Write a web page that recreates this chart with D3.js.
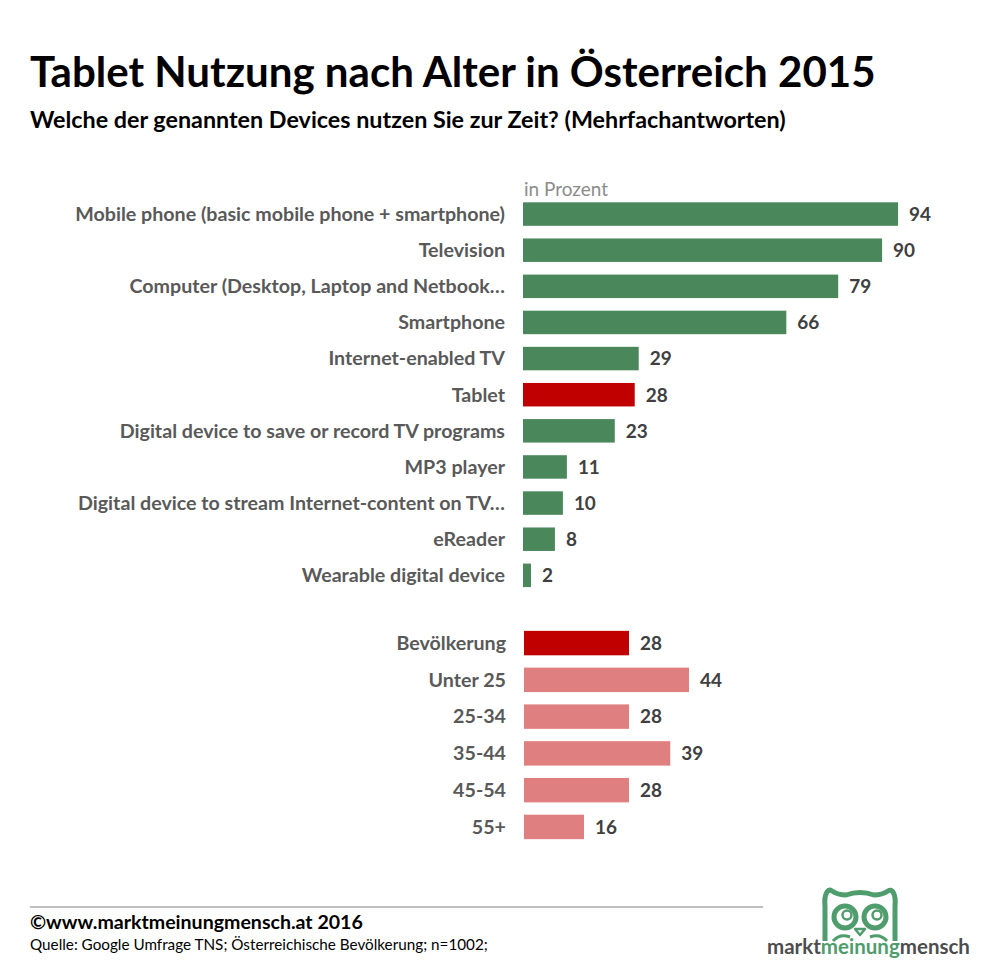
<!DOCTYPE html>
<html>
<head>
<meta charset="utf-8">
<script src="https://cdn.jsdelivr.net/npm/d3@7.9.0/dist/d3.min.js"></script>
<style>
  body { margin: 0; background: #fff; }
  svg { display: block; font-family: Lato, "Open Sans", sans-serif; }
</style>
</head>
<body>
<svg id="chart" width="998" height="978"></svg>
<script>
// --- data ---
const devices = [
  'Mobile phone (basic mobile phone + smartphone)',
  'Television',
  'Computer (Desktop, Laptop and Netbook…',
  'Smartphone',
  'Internet-enabled TV',
  'Tablet',
  'Digital device to save or record TV programs',
  'MP3 player',
  'Digital device to stream Internet-content on TV…',
  'eReader',
  'Wearable digital device'
];
const deviceValues = [94, 90, 79, 66, 29, 28, 23, 11, 10, 8, 2];

const ageGroups = ['Bevölkerung', 'Unter 25', '25-34', '35-44', '45-54', '55+'];
const ageValues = [28, 44, 28, 39, 28, 16];

const highlightDevice = 'Tablet';
const highlightAge = 'Bevölkerung';

const svg = d3.select('#chart');
const GREEN = '#4a875b', RED = '#c00000', PINK = '#e07f7f';

// fit a text element to a target width by scaling its font size
function fitText(sel, width) {
  const w = sel.node().getComputedTextLength();
  const fs = parseFloat(sel.attr('font-size'));
  sel.attr('font-size', fs * width / w);
}

// --- title block ---
const title = svg.append('text')
  .attr('x', 30).attr('y', 87)
  .attr('font-size', 44).attr('font-weight', 700).attr('fill', '#000')
  .text('Tablet Nutzung nach Alter in Österreich 2015');
fitText(title, 846);

const sub = svg.append('text')
  .attr('x', 30).attr('y', 128)
  .attr('font-size', 20).attr('font-weight', 700).attr('fill', '#000')
  .text('Welche der genannten Devices nutzen Sie zur Zeit? (Mehrfachantworten)');
fitText(sub, 756);

const unit = svg.append('text')
  .attr('x', 524).attr('y', 196)
  .attr('font-size', 16).attr('fill', '#8c8c8c')
  .text('in Prozent');
fitText(unit, 84);

// --- scales ---
const x1 = d3.scaleLinear().domain([0, 100]).range([523, 922]);
const y1 = d3.scaleBand().domain(devices).range([196, 593.4])
  .paddingInner(0.35).paddingOuter(0.175);

const x2 = d3.scaleLinear().domain([0, 100]).range([524, 899]);
const y2 = d3.scaleBand().domain(ageGroups).range([624.6, 845.4])
  .paddingInner(0.335).paddingOuter(0.17);

function drawBlock(cats, vals, x, y, colorFn) {
  const g = svg.append('g');
  const rows = g.selectAll('g.row').data(cats.map((c, i) => ({ c, v: vals[i] })))
    .join('g').attr('class', 'row');

  rows.append('rect')
    .attr('x', x(0))
    .attr('y', d => y(d.c))
    .attr('width', d => x(d.v) - x(0))
    .attr('height', y.bandwidth())
    .attr('fill', d => colorFn(d.c));

  rows.append('text')
    .attr('class', 'cat')
    .attr('x', x(0) - 18)
    .attr('y', d => y(d.c) + y.bandwidth() / 2)
    .attr('dy', '0.35em')
    .attr('text-anchor', 'end')
    .attr('font-size', 17).attr('font-weight', 700).attr('fill', '#595959')
    .text(d => d.c);

  rows.append('text')
    .attr('class', 'val')
    .attr('x', d => x(d.v) + 11)
    .attr('y', d => y(d.c) + y.bandwidth() / 2)
    .attr('dy', '0.36em')
    .attr('font-size', 17).attr('font-weight', 700).attr('fill', '#404040')
    .text(d => d.v);
  return g;
}

const g1 = drawBlock(devices, deviceValues, x1, y1, c => c === highlightDevice ? RED : GREEN);
const g2 = drawBlock(ageGroups, ageValues, x2, y2, c => c === highlightAge ? RED : PINK);

// scale category label font so the longest label spans like the reference
const longest = g1.selectAll('text.cat').filter(d => d.c === devices[0]);
const labelSize = 17 * 430 / longest.node().getComputedTextLength();
svg.selectAll('text.cat').attr('font-size', labelSize);

// value labels: "94" is about 22px wide in the reference
const firstVal = g1.selectAll('text.val').filter((d, i) => i === 0);
const valSize = 17 * 22 / firstVal.node().getComputedTextLength();
svg.selectAll('text.val').attr('font-size', valSize);

// --- footer ---
svg.append('line')
  .attr('x1', 30).attr('x2', 763).attr('y1', 907).attr('y2', 907)
  .attr('stroke', '#808080').attr('stroke-width', 1);

const copy = svg.append('text')
  .attr('x', 30).attr('y', 929)
  .attr('font-size', 17).attr('font-weight', 700).attr('fill', '#000')
  .text('©www.marktmeinungmensch.at 2016');
fitText(copy, 333);

const src = svg.append('text')
  .attr('x', 30).attr('y', 950)
  .attr('font-size', 13).attr('fill', '#000')
  .text('Quelle: Google Umfrage TNS; Österreichische Bevölkerung; n=1002;');
fitText(src, 458);

// --- logo ---
const LG = '#4f9c6c';
const logo = svg.append('g');
logo.append('path')
  .attr('d', 'M825,941 L825,906 Q824,897 827,892 Q829,889 832,891 Q838,895 846,895 Q860,890 874,895 Q882,895 888,891 Q891,889 893,892 Q896,897 895,906 L895,941')
  .attr('fill', 'none').attr('stroke', LG).attr('stroke-width', 5).attr('stroke-linejoin', 'round');
[845, 875].forEach(cx => {
  logo.append('circle').attr('cx', cx).attr('cy', 917).attr('r', 11)
    .attr('fill', '#fff').attr('stroke', LG).attr('stroke-width', 5);
  logo.append('circle').attr('cx', cx + 2).attr('cy', 915).attr('r', 4.5)
    .attr('fill', 'none').attr('stroke', LG).attr('stroke-width', 2.5);
});
logo.append('path')
  .attr('d', 'M855,929 L865,929 L860,935 Z')
  .attr('fill', 'none').attr('stroke', LG).attr('stroke-width', 2.5).attr('stroke-linejoin', 'round');
logo.append('path')
  .attr('d', 'M833,941 Q840,933 850,937 M887,941 Q880,933 870,937')
  .attr('fill', 'none').attr('stroke', LG).attr('stroke-width', 3);

const brand = svg.append('text')
  .attr('x', 767).attr('y', 954)
  .attr('font-size', 20).attr('font-weight', 700).attr('fill', '#4d4d4d');
brand.append('tspan').text('markt');
brand.append('tspan').attr('fill', LG).text('meinung');
brand.append('tspan').text('mensch');
fitText(brand, 203);
</script>
</body>
</html>
